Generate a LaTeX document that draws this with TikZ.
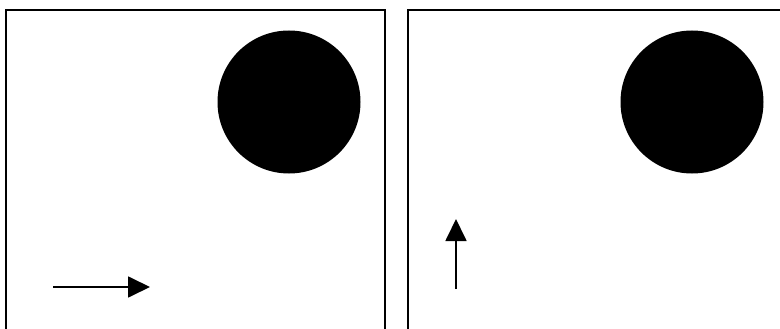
\documentclass[tikz,border=0pt]{standalone}
\usetikzlibrary{arrows.meta}
\tikzset{
  frame/.style={line width=2.6pt, black},
  disc/.style={circle, fill=black, inner sep=0pt, minimum size=143pt},
  motion/.style={line width=1.8pt, -{Triangle[length=22pt 0 0,width=21pt 0 0]}}
}
\begin{document}
\begin{tikzpicture}[x=1pt,y=-1pt]
\useasboundingbox (0,0) rectangle (780,329);
% left panel
\draw[frame] (6,330) -- (6,10) -- (385,10) -- (385,330);
% right panel
\draw[frame] (408,330) -- (408,10) -- (781,10);
\node[disc] (c1) at (289,102) {};
\node[disc] (c2) at (692,102) {};
\coordinate (a1s) at (53,287);
\coordinate (a1e) at (150,287);
\coordinate (a2s) at (456,289);
\coordinate (a2e) at (456,219);
\draw[motion] (a1s) -- (a1e);
\draw[motion] (a2s) -- (a2e);
\end{tikzpicture}
\end{document}
